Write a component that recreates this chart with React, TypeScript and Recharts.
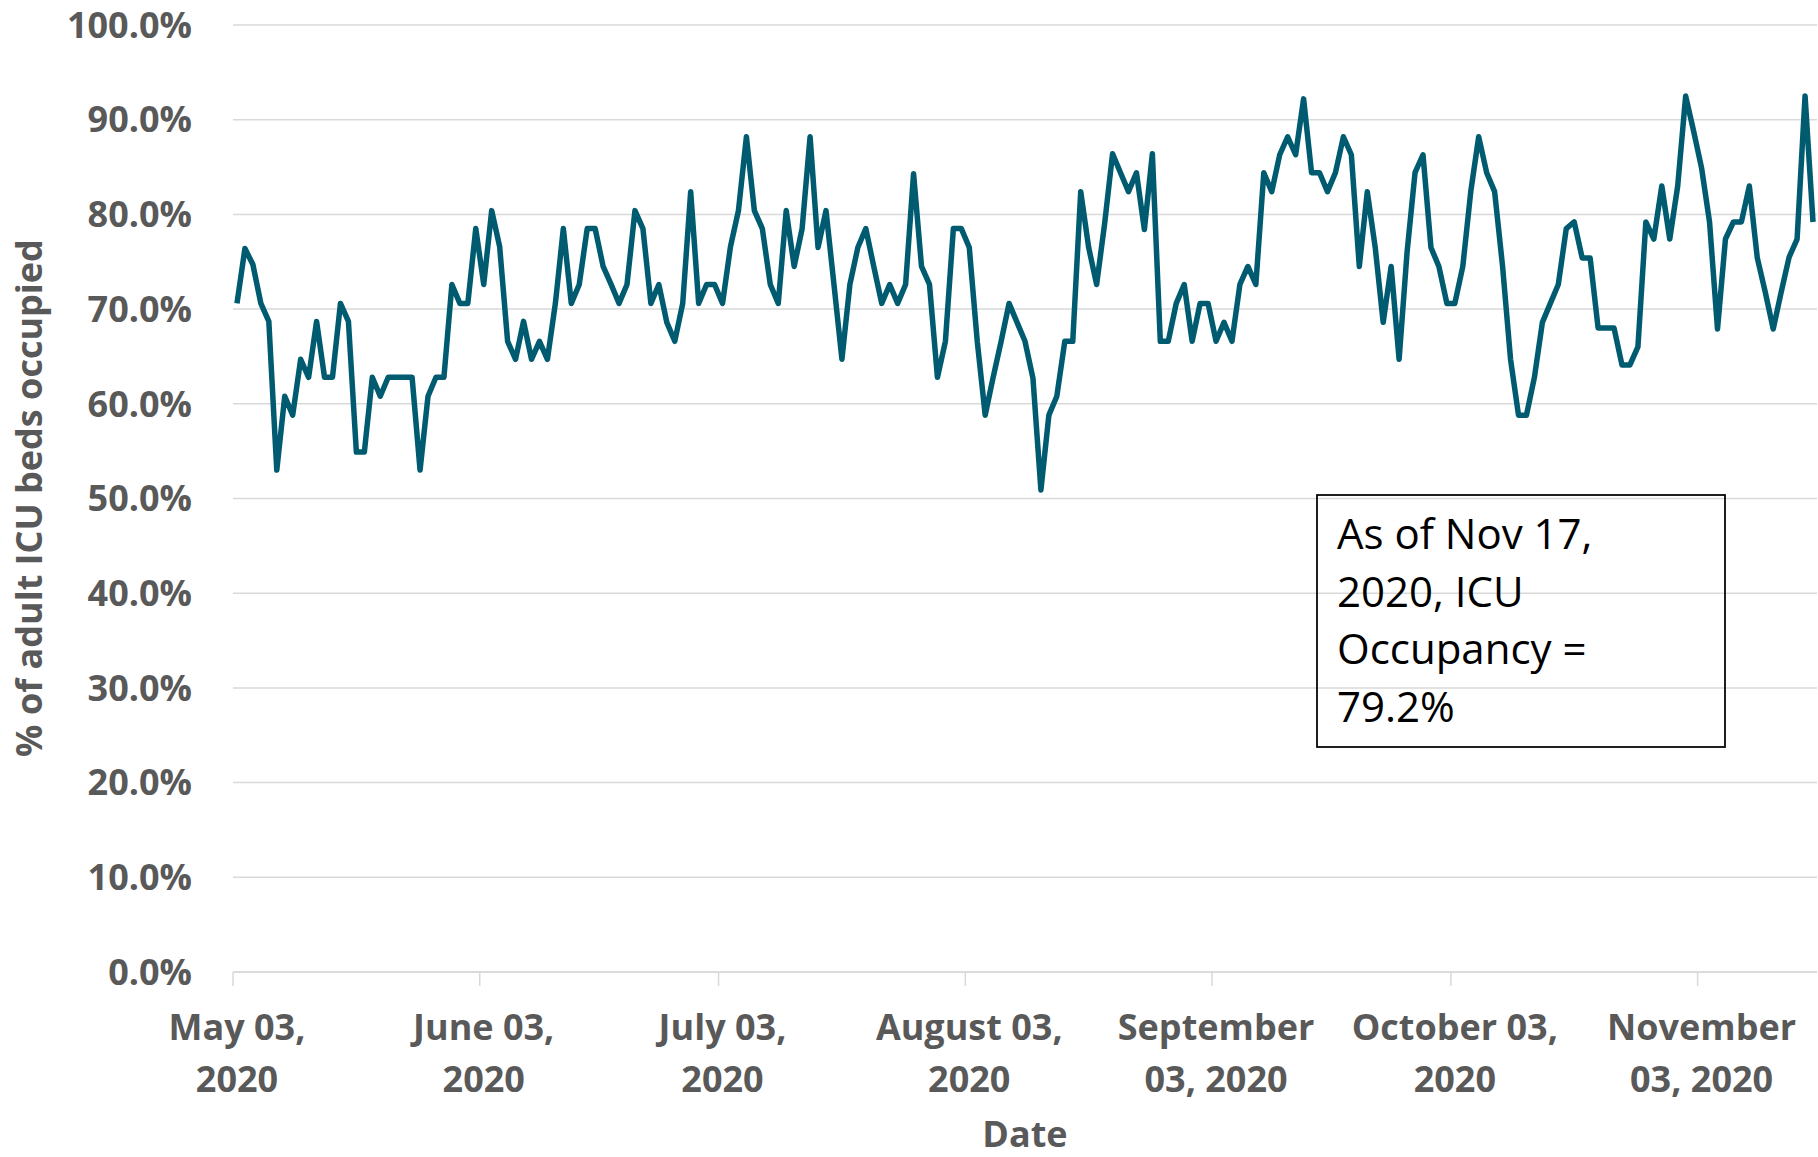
import React from 'react';
import { LineChart, Line, XAxis, YAxis, CartesianGrid } from 'recharts';

const W = 1818;
const H = 1157;
const MARGIN = { top: 25, right: 1, left: 0, bottom: 0 };
const Y_AXIS_W = 233;
const X_AXIS_H = 185;
const FONT = "'Open Sans', 'DejaVu Sans', sans-serif";
const GRAY = '#595959';
const GRID = '#d9d9d9';
const LINE_COLOR = '#005b70';

// Daily % of adult ICU beds occupied, May 03 2020 .. Nov 17 2020
const occupancy = [
  70.6, 76.4, 74.7, 70.6, 68.7, 53.0, 60.8, 58.8, 64.7, 62.8,
  68.7, 62.8, 62.8, 70.6, 68.7, 54.9, 54.9, 62.8, 60.8, 62.8,
  62.8, 62.8, 62.8, 53.0, 60.8, 62.8, 62.8, 72.6, 70.6, 70.6,
  78.5, 72.6, 80.4, 76.6, 66.6, 64.7, 68.7, 64.7, 66.6, 64.7,
  70.6, 78.5, 70.6, 72.6, 78.5, 78.5, 74.5, 72.6, 70.6, 72.6,
  80.4, 78.5, 70.6, 72.6, 68.6, 66.6, 70.6, 82.4, 70.6, 72.6,
  72.6, 70.6, 76.6, 80.4, 88.2, 80.4, 78.5, 72.6, 70.6, 80.4,
  74.5, 78.5, 88.2, 76.5, 80.4, 72.6, 64.7, 72.6, 76.5, 78.5,
  74.5, 70.6, 72.6, 70.6, 72.6, 84.3, 74.5, 72.6, 62.8, 66.6,
  78.5, 78.5, 76.5, 66.6, 58.8, 62.8, 66.6, 70.6, 68.6, 66.6,
  62.7, 50.9, 58.8, 60.8, 66.6, 66.6, 82.4, 76.5, 72.6, 79.0,
  86.4, 84.4, 82.4, 84.4, 78.4, 86.4, 66.6, 66.6, 70.6, 72.6,
  66.6, 70.6, 70.6, 66.6, 68.6, 66.6, 72.6, 74.5, 72.6, 84.4,
  82.4, 86.3, 88.2, 86.3, 92.2, 84.4, 84.4, 82.4, 84.4, 88.2,
  86.3, 74.5, 82.4, 76.5, 68.6, 74.5, 64.7, 76.0, 84.4, 86.3,
  76.5, 74.5, 70.6, 70.6, 74.5, 82.4, 88.2, 84.4, 82.4, 74.5,
  64.7, 58.8, 58.8, 62.8, 68.6, 70.6, 72.6, 78.5, 79.2, 75.4,
  75.4, 68.0, 68.0, 68.0, 64.1, 64.1, 66.0, 79.2, 77.4, 83.0,
  77.4, 83.0, 92.5, 88.8, 84.9, 79.2, 67.9, 77.4, 79.2, 79.2,
  83.0, 75.4, 71.8, 67.9, 71.8, 75.5, 77.4, 92.5, 79.2,
];

const data = occupancy.map((value, day) => ({ day, value }));

// tick dates (day index from May 03, 2020) and their two-line labels
const tickDays = [0, 31, 61, 92, 123, 153, 184];
const tickLine1 = ['May 03,', 'June 03,', 'July 03,', 'August 03,', 'September', 'October 03,', 'November'];
const tickLine2 = ['2020', '2020', '2020', '2020', '03, 2020', '2020', '03, 2020'];
const yTicks = [0, 10, 20, 30, 40, 50, 60, 70, 80, 90, 100];

const annotationLines = ['As of Nov 17,', '2020, ICU', 'Occupancy =', '79.2%'];

const PLOT_W = W - MARGIN.left - MARGIN.right - Y_AXIS_W;
const HALF_DAY = PLOT_W / occupancy.length / 2;

const XTick = (props: any) => {
  const { x, y, payload } = props;
  const idx = tickDays.findIndex((d) => Math.abs(d - 0.5 - payload.value) < 0.01);
  if (idx < 0) return null;
  return (
    <g>
      <text x={x + HALF_DAY} y={y + 54} textAnchor="middle" fill={GRAY}
        fontFamily={FONT} fontSize={36} fontWeight={700}>{tickLine1[idx]}</text>
      <text x={x + HALF_DAY} y={y + 106} textAnchor="middle" fill={GRAY}
        fontFamily={FONT} fontSize={36} fontWeight={700}>{tickLine2[idx]}</text>
    </g>
  );
};

export default function App() {
  return (
    <div style={{ position: 'absolute', left: 0, top: 0, width: W, height: H, background: '#fff' }}>
      <LineChart width={W} height={H} data={data} margin={MARGIN}>
        <CartesianGrid horizontal vertical={false} stroke={GRID} strokeWidth={1.5} />
        <XAxis
          dataKey="day"
          type="number"
          domain={[-0.5, occupancy.length - 0.5]}
          ticks={tickDays.map((d) => d - 0.5)}
          interval={0}
          height={X_AXIS_H}
          axisLine={{ stroke: GRID, strokeWidth: 1.5 }}
          tickLine={{ stroke: GRID, strokeWidth: 1.5 }}
          tickSize={14}
          tickMargin={0}
          tick={XTick}
        />
        <YAxis
          type="number"
          domain={[0, 100]}
          ticks={yTicks}
          interval={0}
          width={Y_AXIS_W}
          axisLine={false}
          tickLine={false}
          tickSize={0}
          tickMargin={41}
          tickFormatter={(v: number) => `${v.toFixed(1)}%`}
          tick={{ fill: GRAY, fontFamily: FONT, fontSize: 36, fontWeight: 700 }}
        />
        <Line
          type="linear"
          dataKey="value"
          stroke={LINE_COLOR}
          strokeWidth={5.5}
          strokeLinejoin="round"
          dot={false}
          activeDot={false}
          isAnimationActive={false}
        />
      </LineChart>
      <svg width={W} height={H} style={{ position: 'absolute', left: 0, top: 0, pointerEvents: 'none' }}>
        <text transform="translate(42,498) rotate(-90)" textAnchor="middle" fill={GRAY}
          fontFamily={FONT} fontSize={36} fontWeight={700}>% of adult ICU beds occupied</text>
        <text x={1025} y={1147} textAnchor="middle" fill={GRAY}
          fontFamily={FONT} fontSize={36} fontWeight={700}>Date</text>
        <rect x={1317} y={495} width={408} height={252} fill="none" stroke="#000" strokeWidth={1.75} />
        {annotationLines.map((t, i) => (
          <text key={i} x={1337} y={549 + i * 57.7} fill="#000" fontFamily={FONT} fontSize={42}>{t}</text>
        ))}
      </svg>
    </div>
  );
}
